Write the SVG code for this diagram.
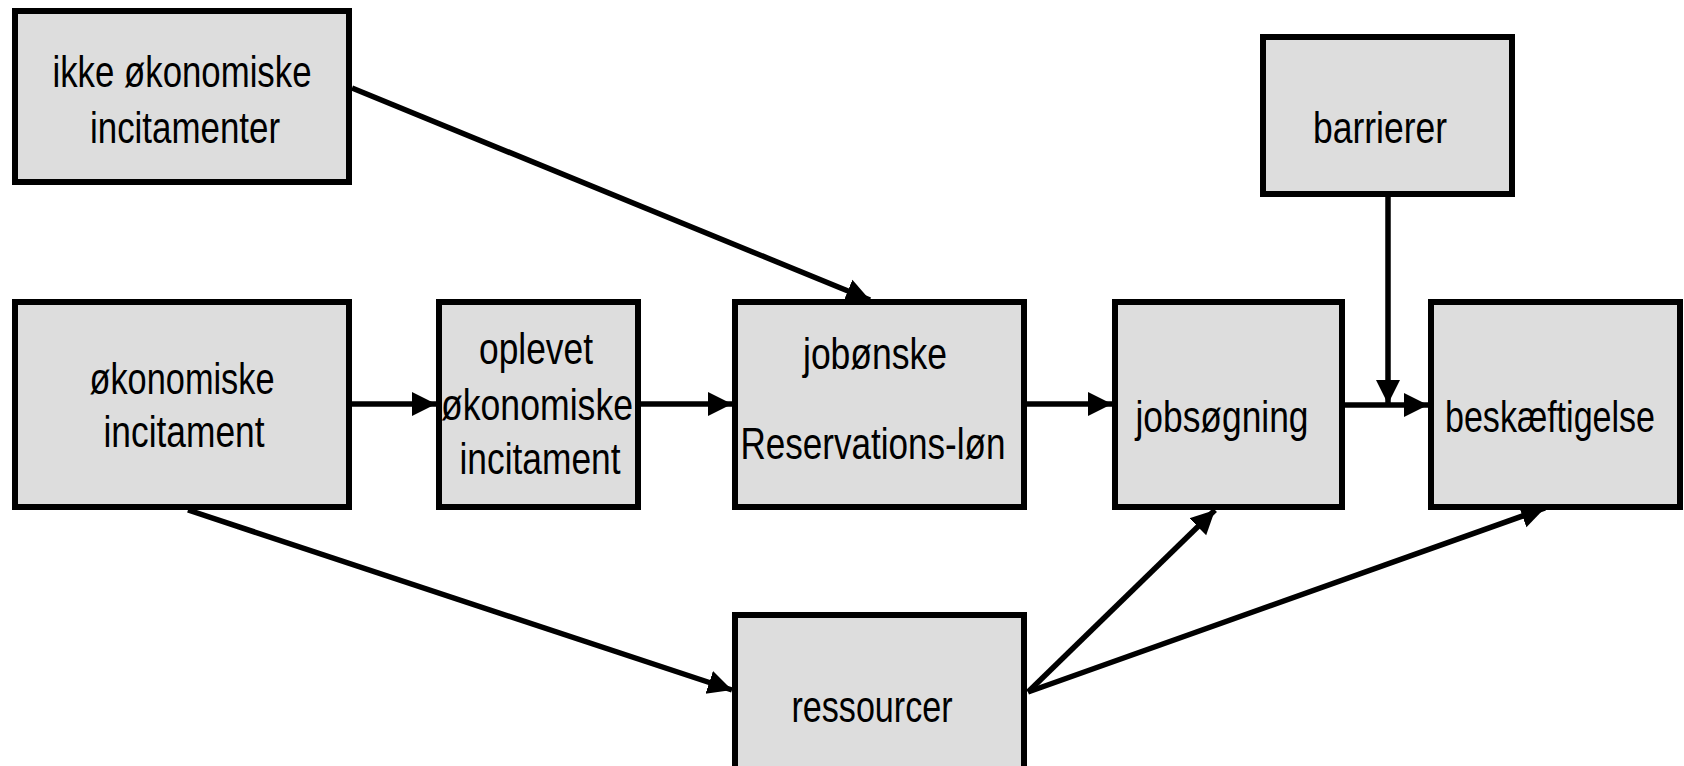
<svg xmlns="http://www.w3.org/2000/svg" width="1684" height="766" viewBox="0 0 1684 766">
  <defs>
    <style>
      .box { fill: #dddddd; stroke: #000000; stroke-width: 6; }
      .lbl { font-family: "Liberation Sans Narrow", "Liberation Sans", Arial, sans-serif; font-size: 45px; fill: #000000; text-anchor: middle; }
      .conn { stroke: #000000; stroke-width: 5.5; fill: none; marker-end: url(#arrow); }
    </style>
    <marker id="arrow" markerUnits="userSpaceOnUse" markerWidth="26" markerHeight="26" viewBox="0 0 26 26" refX="24" refY="13" orient="auto">
      <path d="M0,1 L24,13 L0,25 z" fill="#000000"/>
    </marker>
  </defs>
  <rect width="1684" height="766" fill="#ffffff"/>
  <g id="connectors">
    <line class="conn" x1="352" y1="88" x2="870" y2="300"/>
    <line class="conn" x1="352" y1="404" x2="436" y2="404"/>
    <line class="conn" x1="641" y1="404" x2="732" y2="404"/>
    <line class="conn" x1="1027" y1="404" x2="1112" y2="404"/>
    <line class="conn" x1="1345" y1="405" x2="1428" y2="405"/>
    <line class="conn" x1="1388" y1="196" x2="1388" y2="404"/>
    <line class="conn" x1="188" y1="510" x2="732" y2="690"/>
    <line class="conn" x1="1028" y1="692" x2="1215" y2="510"/>
    <line class="conn" x1="1028" y1="692" x2="1545" y2="508"/>
  </g>
  <g id="node-ikke-okonomiske">
    <rect class="box" x="15" y="11" width="334" height="171"/>
    <text class="lbl" x="182" y="87" textLength="259" lengthAdjust="spacingAndGlyphs">ikke økonomiske</text>
    <text class="lbl" x="185" y="143" textLength="190" lengthAdjust="spacingAndGlyphs">incitamenter</text>
  </g>
  <g id="node-okonomiske">
    <rect class="box" x="15" y="302" width="334" height="205"/>
    <text class="lbl" x="182" y="394" textLength="185" lengthAdjust="spacingAndGlyphs">økonomiske</text>
    <text class="lbl" x="184" y="447" textLength="161" lengthAdjust="spacingAndGlyphs">incitament</text>
  </g>
  <g id="node-oplevet">
    <rect class="box" x="439" y="302" width="199" height="205"/>
    <text class="lbl" x="536" y="364" textLength="114" lengthAdjust="spacingAndGlyphs">oplevet</text>
    <text class="lbl" x="537" y="420" textLength="192" lengthAdjust="spacingAndGlyphs">økonomiske</text>
    <text class="lbl" x="540" y="474" textLength="161" lengthAdjust="spacingAndGlyphs">incitament</text>
  </g>
  <g id="node-jobonske">
    <rect class="box" x="735" y="302" width="289" height="205"/>
    <text class="lbl" x="875" y="369" textLength="144" lengthAdjust="spacingAndGlyphs">jobønske</text>
    <text class="lbl" x="873" y="459" textLength="265" lengthAdjust="spacingAndGlyphs">Reservations-løn</text>
  </g>
  <g id="node-jobsogning">
    <rect class="box" x="1115" y="302" width="227" height="205"/>
    <text class="lbl" x="1222" y="432" textLength="173" lengthAdjust="spacingAndGlyphs">jobsøgning</text>
  </g>
  <g id="node-barrierer">
    <rect class="box" x="1263" y="37" width="249" height="157"/>
    <text class="lbl" x="1380" y="143" textLength="134" lengthAdjust="spacingAndGlyphs">barrierer</text>
  </g>
  <g id="node-beskaeftigelse">
    <rect class="box" x="1431" y="302" width="249" height="205"/>
    <text class="lbl" transform="translate(1550,432) scale(1,1.2)" x="0" y="0" style="font-size:37.5px" textLength="210" lengthAdjust="spacingAndGlyphs">beskæftigelse</text>
  </g>
  <g id="node-ressourcer">
    <rect class="box" x="735" y="615" width="289" height="170"/>
    <text class="lbl" x="872" y="722" textLength="161" lengthAdjust="spacingAndGlyphs">ressourcer</text>
  </g>
</svg>
